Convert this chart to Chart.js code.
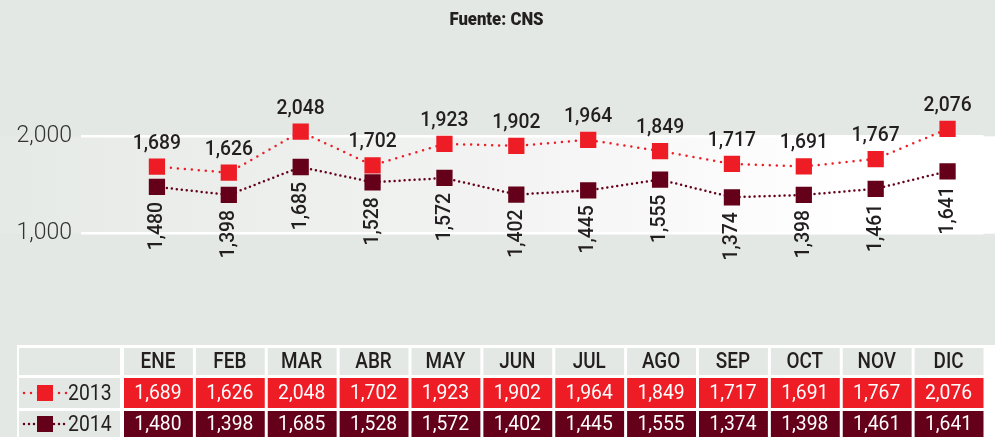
<!DOCTYPE html>
<html>
<head>
<meta charset="utf-8">
<script src="https://cdn.jsdelivr.net/npm/chart.js@4"></script>
<style>
  html, body { margin: 0; padding: 0; background: #e3e8e4; }
  #wrap { width: 995px; height: 437px; }
</style>
</head>
<body>
<div id="wrap"><canvas id="myChart" width="995" height="437"></canvas></div>
<script>
const months = ["ENE", "FEB", "MAR", "ABR", "MAY", "JUN", "JUL", "AGO", "SEP", "OCT", "NOV", "DIC"];
const cases2013 = [1689, 1626, 2048, 1702, 1923, 1902, 1964, 1849, 1717, 1691, 1767, 2076];
const cases2014 = [1480, 1398, 1685, 1528, 1572, 1402, 1445, 1555, 1374, 1398, 1461, 1641];
const yTicks = [1000, 2000];
const seriesNames = ["2013", "2014"];

const BG = "#e3e8e4";
const RED = "#ee1c25";
const MAROON = "#640019";
const FONT = "Roboto, sans-serif";

function fmt(n) {
  return n.toLocaleString("en-US");
}

// condensed look: squeeze text horizontally
function narrowText(ctx, text, x, y, sx) {
  ctx.save();
  ctx.translate(x, y);
  ctx.scale(sx, 1);
  ctx.fillText(text, 0, 0);
  ctx.restore();
}

// background + white band between the two ticks
const bandPlugin = {
  id: "band",
  beforeDraw(chart) {
    const ctx = chart.ctx;
    const y = chart.scales.y;
    ctx.save();
    ctx.fillStyle = BG;
    ctx.fillRect(0, 0, chart.width, chart.height);
    const top = y.getPixelForValue(yTicks[1]);
    const bottom = y.getPixelForValue(yTicks[0]);
    const grad = ctx.createLinearGradient(0, 0, chart.width, 0);
    grad.addColorStop(0, "#e6eae6");
    grad.addColorStop(0.5, "#f2f3f2");
    grad.addColorStop(0.85, "#ffffff");
    ctx.fillStyle = grad;
    ctx.fillRect(0, top, chart.width, bottom - top);

    ctx.fillStyle = "#231f20";
    ctx.font = "900 19px " + FONT;
    ctx.textAlign = "center";
    ctx.textBaseline = "middle";
    narrowText(ctx, "Fuente: CNS", chart.width / 2 - 1, 20, 0.88);
    ctx.restore();
  },
};

// value labels next to the points
const labelPlugin = {
  id: "labels",
  afterDatasetsDraw(chart) {
    const ctx = chart.ctx;
    ctx.save();
    ctx.fillStyle = "#231f20";
    ctx.font = "500 21px " + FONT;
    chart.getDatasetMeta(0).data.forEach((pt, i) => {
      ctx.textAlign = "center";
      ctx.textBaseline = "alphabetic";
      narrowText(ctx, fmt(cases2013[i]), pt.x, pt.y - 18, 0.92);
    });
    chart.getDatasetMeta(1).data.forEach((pt, i) => {
      ctx.save();
      ctx.translate(pt.x, pt.y + 15);
      ctx.rotate(-Math.PI / 2);
      ctx.textAlign = "right";
      ctx.textBaseline = "middle";
      narrowText(ctx, fmt(cases2014[i]), 0, 0, 0.92);
      ctx.restore();
    });
    ctx.restore();
  },
};

// data table under the chart
const tablePlugin = {
  id: "table",
  afterDraw(chart) {
    const ctx = chart.ctx;
    const x = chart.scales.x;
    const colW = (chart.chartArea.right - chart.chartArea.left) / months.length;
    const rows = [
      { y: 348, h: 27 },
      { y: 378, h: 30 },
      { y: 411, h: 26 },
    ];
    ctx.save();
    ctx.fillStyle = "#ffffff";
    ctx.fillRect(17, 345, chart.width - 17, chart.height - 345);

    rows.forEach((r, ri) => {
      ctx.fillStyle = BG;
      ctx.fillRect(19, r.y, 101, r.h);
      months.forEach((m, i) => {
        const cx = x.getPixelForValue(i);
        const left = cx - colW / 2 + 3;
        ctx.fillStyle = ri === 0 ? BG : ri === 1 ? RED : MAROON;
        ctx.fillRect(left, r.y, colW - 3, r.h);
        ctx.textAlign = "center";
        ctx.textBaseline = "middle";
        if (ri === 0) {
          ctx.fillStyle = "#231f20";
          ctx.font = "500 22px " + FONT;
          narrowText(ctx, m, cx + 1, r.y + r.h / 2 + 1, 0.86);
        } else {
          ctx.fillStyle = "#ffffff";
          ctx.font = "400 21px " + FONT;
          const v = ri === 1 ? cases2013[i] : cases2014[i];
          narrowText(ctx, fmt(v), cx + 1, r.y + r.h / 2 + 1, 0.92);
        }
      });
      if (ri > 0) {
        const col = ri === 1 ? RED : MAROON;
        const cy = r.y + r.h / 2;
        ctx.strokeStyle = col;
        ctx.lineWidth = 2.5;
        ctx.lineCap = "round";
        ctx.setLineDash([0, ri === 1 ? 7 : 5]);
        ctx.beginPath();
        ctx.moveTo(24, cy);
        ctx.lineTo(68, cy);
        ctx.stroke();
        ctx.setLineDash([]);
        ctx.fillStyle = col;
        ctx.fillRect(37, cy - 8, 16, 16);
        ctx.fillStyle = "#231f20";
        ctx.font = "400 22px " + FONT;
        ctx.textAlign = "left";
        narrowText(ctx, seriesNames[ri - 1], 68, cy + 1, 0.88);
      }
    });
    ctx.restore();
  },
};

const ctx = document.getElementById("myChart").getContext("2d");
const myChart = new Chart(ctx, {
  type: "line",
  data: {
    labels: months,
    datasets: [
      {
        label: seriesNames[0],
        data: cases2013,
        borderColor: RED,
        backgroundColor: RED,
        borderWidth: 2.5,
        borderDash: [0, 7],
        borderCapStyle: "round",
        pointStyle: "rect",
        pointRadius: 11.5,
        pointBorderWidth: 0,
        tension: 0,
      },
      {
        label: seriesNames[1],
        data: cases2014,
        borderColor: MAROON,
        backgroundColor: MAROON,
        borderWidth: 2.5,
        borderDash: [0, 5],
        borderCapStyle: "round",
        pointStyle: "rect",
        pointRadius: 11.5,
        pointBorderWidth: 0,
        tension: 0,
      },
    ],
  },
  options: {
    responsive: false,
    animation: false,
    devicePixelRatio: 1,
    layout: { padding: { top: 39, bottom: 106, left: 0, right: 0 } },
    scales: {
      x: {
        display: false,
        offset: true,
      },
      y: {
        min: 0,
        max: 3000,
        afterFit(scale) {
          scale.width = 121;
        },
        afterBuildTicks(scale) {
          scale.ticks = yTicks.map((v) => ({ value: v }));
        },
        border: { display: false },
        grid: {
          color: "#ffffff",
          lineWidth: 2.5,
          tickLength: 40,
          drawTicks: true,
        },
        ticks: {
          padding: 9,
          color: "#333333",
          font: { family: "Roboto", weight: "300", size: 23 },
          callback: (v) => fmt(v),
        },
      },
    },
    plugins: {
      legend: { display: false },
      tooltip: { enabled: false },
    },
  },
  plugins: [bandPlugin, labelPlugin, tablePlugin],
});
</script>
</body>
</html>
